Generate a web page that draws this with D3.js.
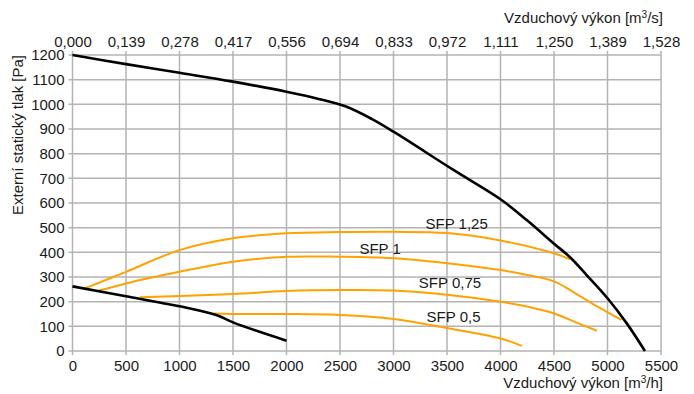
<!DOCTYPE html>
<html>
<head>
<meta charset="utf-8">
<script src="https://cdn.jsdelivr.net/npm/d3@7"></script>
<style>
  html, body { margin: 0; padding: 0; background: #fff; }
  svg { display: block; font-family: "Liberation Sans", Arial, sans-serif; }
</style>
</head>
<body>
<svg id="chart" width="694" height="394"></svg>
<script>
// Airflow ticks [m³/h] and matching labels for the m³/s axis
const flowTicks = [0, 500, 1000, 1500, 2000, 2500, 3000, 3500, 4000, 4500, 5000, 5500];
const flowTicksM3s = ["0,000", "0,139", "0,278", "0,417", "0,556", "0,694", "0,833", "0,972", "1,111", "1,250", "1,389", "1,528"];
const pressureTicks = [0, 100, 200, 300, 400, 500, 600, 700, 800, 900, 1000, 1100, 1200];

// Fan characteristic: [airflow m³/h, pressure Pa]
const fanCurve = [[0,1200],[500,1163],[1000,1128],[1500,1092],[2000,1051],[2300,1022],[2550,992],[2800,940],[3000,889],[3560,734],[4000,615],[4245,531],[4495,437],[4650,380],[4805,308],[5000,214],[5180,112],[5350,0]];
// Minimum operating limit
const minCurve = [[0,262],[500,222],[1000,181],[1350,145],[1500,116],[2000,42]];

// Specific fan power isolines
const sfp125 = [[116,254],[500,321],[1000,409],[1500,457],[2000,477],[2500,482],[3000,483],[3500,478],[4000,448],[4500,396],[4650,372]];
const sfp1 = [[240,244],[500,274],[1000,321],[1500,362],[2000,382],[2500,382],[3000,376],[3500,356],[4000,328],[4250,308],[4500,282],[4700,234],[4900,182],[5130,126]];
const sfp075 = [[630,218],[1000,223],[1500,231],[2000,243],[2500,247],[3000,245],[3500,228],[4000,200],[4250,180],[4500,152],[4700,117],[4900,82]];
const sfp05 = [[1315,152],[1500,150],[2000,150],[2500,146],[3000,130],[3500,93],[4000,51],[4200,21]];

const sfpNames = ["SFP 1,25", "SFP 1", "SFP 0,75", "SFP 0,5"];
// Label anchor points [airflow, pressure] (text baseline centre)
const sfpLabelPos = [[3590, 494], [2875, 393], [3528, 255], [3561, 119]];

const svg = d3.select("#chart");
const margin = { left: 72.5, right: 33, top: 55, bottom: 43 };
const W = 694, H = 394;

const x = d3.scaleLinear().domain([0, 5500]).range([margin.left, W - margin.right]);
const y = d3.scaleLinear().domain([0, 1200]).range([H - margin.bottom, margin.top]);
const xTop = d3.scaleLinear().domain([0, 5500 / 3600]).range(x.range());

const gridColor = "#b3b3b3";
const fontSize = 15;
const textColor = "#1a1a1a";

// Grid
const grid = svg.append("g");
grid.selectAll("line.v").data(flowTicks).join("line")
  .attr("x1", d => x(d)).attr("x2", d => x(d))
  .attr("y1", y(1200) - 4).attr("y2", y(0) + 4)
  .attr("stroke", gridColor).attr("stroke-width", 1.5);
grid.selectAll("line.h").data(pressureTicks).join("line")
  .attr("x1", x(0) - 4).attr("x2", x(5500))
  .attr("y1", d => y(d)).attr("y2", d => y(d))
  .attr("stroke", gridColor).attr("stroke-width", 1.5);

// Axes (labels only, the grid draws the lines)
const xAxis = svg.append("g").attr("transform", `translate(0,${y(0)})`)
  .call(d3.axisBottom(x).tickValues(flowTicks).tickFormat(d => d).tickSize(0).tickPadding(9));
const xAxisTop = svg.append("g").attr("transform", `translate(0,${y(1200)})`)
  .call(d3.axisTop(xTop).tickValues(flowTicks.map(d => d / 3600)).tickFormat((d, i) => flowTicksM3s[i]).tickSize(0).tickPadding(8));
const yAxis = svg.append("g").attr("transform", `translate(${x(0)},0)`)
  .call(d3.axisLeft(y).tickValues(pressureTicks).tickFormat(d => d).tickSize(0).tickPadding(8));

[xAxis, xAxisTop, yAxis].forEach(g => {
  g.select(".domain").remove();
  g.selectAll("text").attr("font-size", fontSize).attr("fill", textColor)
    .attr("font-family", "Liberation Sans, Arial, sans-serif");
});

// Axis titles
function flowTitle(yPos, unit) {
  const t = svg.append("text").attr("x", x(5500) + 2).attr("y", yPos)
    .attr("text-anchor", "end").attr("font-size", fontSize).attr("fill", textColor);
  t.append("tspan").text("Vzduchový výkon [m");
  t.append("tspan").text("3").attr("font-size", 10).attr("dy", -5);
  t.append("tspan").text(unit).attr("dy", 5);
}
flowTitle(388, "/h]");
flowTitle(23, "/s]");

svg.append("text")
  .attr("transform", `translate(23,135) rotate(-90)`)
  .attr("text-anchor", "middle").attr("font-size", fontSize).attr("fill", textColor)
  .text("Externí statický tlak [Pa]");

// Curves
const line = d3.line().x(d => x(d[0])).y(d => y(d[1])).curve(d3.curveCatmullRom.alpha(0.5));
const orange = "#ffa200";

[sfp125, sfp1, sfp075, sfp05].forEach(s => {
  svg.append("path").datum(s).attr("d", line)
    .attr("fill", "none").attr("stroke", orange).attr("stroke-width", 2);
});

svg.append("path").datum(minCurve).attr("d", line)
  .attr("fill", "none").attr("stroke", "#000").attr("stroke-width", 2.6);
svg.append("path").datum(fanCurve).attr("d", line)
  .attr("fill", "none").attr("stroke", "#000").attr("stroke-width", 2.6);

// SFP labels
svg.selectAll("text.sfp").data(sfpNames).join("text")
  .attr("class", "sfp")
  .attr("x", (d, i) => x(sfpLabelPos[i][0]))
  .attr("y", (d, i) => y(sfpLabelPos[i][1]))
  .attr("text-anchor", "middle")
  .attr("font-size", fontSize).attr("fill", textColor)
  .text(d => d);
</script>
</body>
</html>
